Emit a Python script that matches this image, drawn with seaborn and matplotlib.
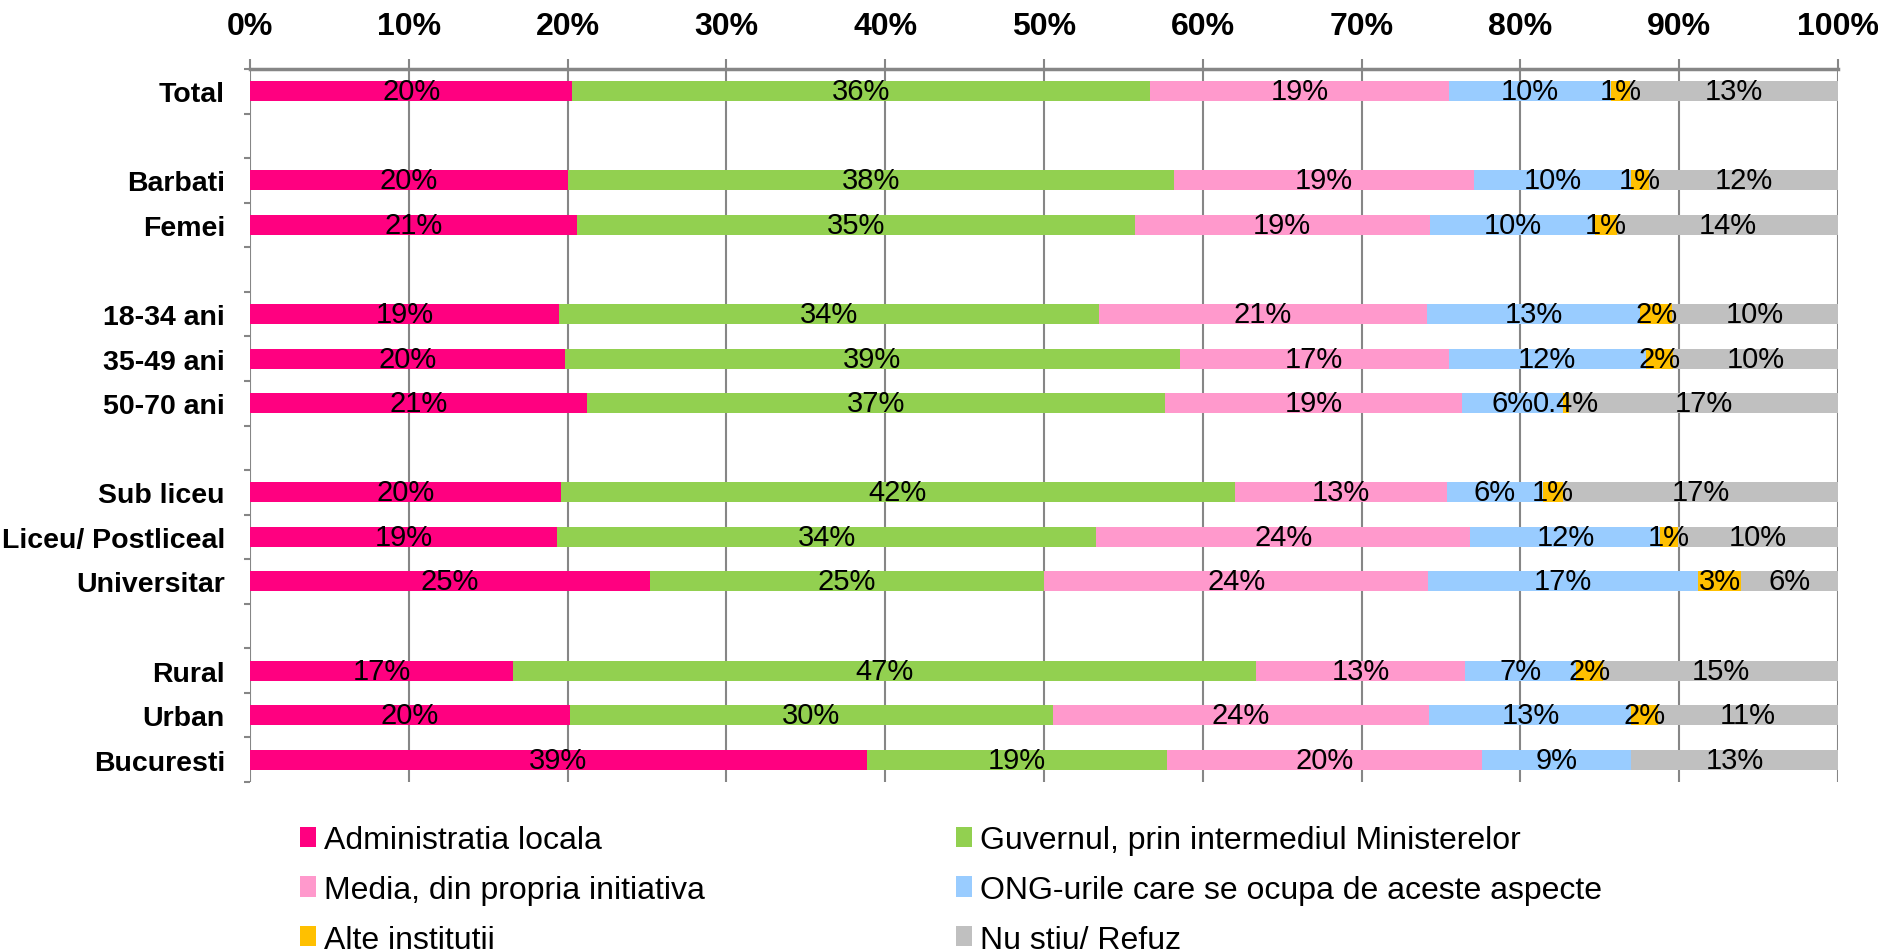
import numpy as np
import pandas as pd
import matplotlib
matplotlib.use("Agg")
import matplotlib.pyplot as plt
from matplotlib.patches import Patch
from matplotlib import font_manager
import seaborn as sns

# ---------- DATA ----------
categories = ["Total", "", "Barbati", "Femei", "", "18-34 ani", "35-49 ani", "50-70 ani", "",
              "Sub liceu", "Liceu/ Postliceal", "Universitar", "", "Rural", "Urban", "Bucuresti"]

series_names = ["Administratia locala", "Guvernul, prin intermediul Ministerelor",
                "Media, din propria initiativa", "ONG-urile care se ocupa de aceste aspecte",
                "Alte institutii", "Nu stiu/ Refuz"]

admin   = [20.3, None, 20.0, 20.6, None, 19.4, 19.8, 21.3, None, 19.6, 19.4, 25.2, None, 16.6, 20.1, 38.8]
guvern  = [36.4, None, 38.1, 35.1, None, 33.9, 38.7, 36.6, None, 42.4, 34.0, 24.8, None, 46.8, 30.4, 18.9]
media   = [18.8, None, 18.9, 18.6, None, 20.6, 16.9, 18.8, None, 13.4, 23.6, 24.2, None, 13.2, 23.7, 19.8]
ong     = [10.2, None, 9.9, 10.4, None, 13.4, 12.4, 6.4, None, 6.0, 12.0, 17.0, None, 7.0, 12.7, 9.4]
alte    = [1.2, None, 1.1, 1.4, None, 2.0, 1.7, 0.4, None, 1.3, 1.1, 2.7, None, 1.7, 1.7, 0.0]
nu_stiu = [13.1, None, 11.9, 13.9, None, 10.4, 10.4, 17.0, None, 17.3, 10.1, 6.1, None, 14.8, 11.3, 13.0]

colors = ["#FF0080", "#92D050", "#FF99CC", "#99CCFF", "#FFC000", "#C0C0C0"]

# ---------- PREP ----------
# blank separator rows need unique keys for the categorical axis
row_keys = [c if c else " " * (i + 1) for i, c in enumerate(categories)]

df = pd.DataFrame({"key": row_keys, series_names[0]: admin, series_names[1]: guvern,
                   series_names[2]: media, series_names[3]: ong,
                   series_names[4]: alte, series_names[5]: nu_stiu})
df = df.dropna().reset_index(drop=True)

# 100% stacked like Excel
norm = df[series_names].div(df[series_names].sum(axis=1), axis=0) * 100
cum = norm.cumsum(axis=1)
plot_df = pd.concat([df[["key"]], cum.add_prefix("cum_")], axis=1)

# ---------- FONTS ----------
sns.set_style("white")
plt.rcParams["font.family"] = ["Liberation Sans", "DejaVu Sans"]
plt.rcParams["text.color"] = "black"

installed = {f.name for f in font_manager.fontManager.ttflist}
if "Liberation Sans Narrow" in installed:
    narrow = ["Liberation Sans Narrow", "Liberation Sans"]
    label_size, cat_size = 24, 23.5
else:
    narrow = ["Liberation Sans", "DejaVu Sans"]
    label_size, cat_size = 21, 20.5

# ---------- PLOT ----------
fig = plt.figure(figsize=(18.78, 9.53), dpi=100)
ax = fig.add_axes([250 / 1878, 1 - 783 / 953, (1838 - 250) / 1878, (783 - 70) / 953])

# draw cumulative bars from the widest down so they stack
for j in reversed(range(len(series_names))):
    sns.barplot(data=plot_df, x="cum_" + series_names[j], y="key", order=row_keys,
                orient="h", color=colors[j], saturation=1, width=0.45,
                errorbar=None, linewidth=0, ax=ax)

# data labels
for i, row in df.iterrows():
    ypos = row_keys.index(row["key"])
    for j, name in enumerate(series_names):
        v = row[name]
        if v <= 0:
            continue
        xc = cum.loc[i, name] - norm.loc[i, name] / 2
        txt = f"{v:.0f}%" if v >= 1 else f"{v:.1f}%"
        ax.text(xc, ypos, txt, ha="center", va="center", fontsize=label_size,
                color="black", family=narrow)

ax.set_xlim(0, 100)
ax.set_ylim(len(row_keys) - 0.5, -0.5)
ax.set_xlabel("")
ax.set_ylabel("")

# x axis on top
ax.xaxis.tick_top()
ax.set_xticks(np.arange(0, 101, 10))
ax.set_xticklabels([f"{t}%" for t in range(0, 101, 10)], fontsize=23, fontweight="bold")
ax.tick_params(axis="x", which="major", length=7.5, width=1.5, color="#868686",
               labelcolor="black", pad=13, top=True, bottom=False,
               labeltop=True, labelbottom=False)

# y axis labels + boundary ticks
ax.set_yticks(range(len(categories)))
ax.set_yticklabels(categories, fontsize=cat_size, fontweight="bold", family=narrow)
ax.tick_params(axis="y", which="major", length=0, pad=18, labelcolor="black")
ax.set_yticks(np.arange(-0.5, len(categories), 1), minor=True)
ax.tick_params(axis="y", which="minor", length=4.5, width=1.5, color="#868686", left=True)

for side in ["left", "right", "bottom"]:
    ax.spines[side].set_visible(False)
ax.spines["top"].set_color("#868686")
ax.spines["top"].set_linewidth(2.5)

ax.grid(axis="x", color="#868686", linewidth=1.5)
ax.grid(axis="y", visible=False)
ax.set_axisbelow(True)

# legend, two columns placed by hand
handles = [Patch(facecolor=c, edgecolor="none", label=n) for c, n in zip(colors, series_names)]
leg_kw = dict(loc="upper left", frameon=False, fontsize=23, handlelength=0.5,
              handleheight=0.6, handletextpad=0.25, labelspacing=0.62,
              borderaxespad=0, borderpad=0, labelcolor="black")
fig.legend(handles=[handles[0], handles[2], handles[4]],
           bbox_to_anchor=(300 / 1878, 1 - 826 / 953), **leg_kw)
fig.legend(handles=[handles[1], handles[3], handles[5]],
           bbox_to_anchor=(956 / 1878, 1 - 826 / 953), **leg_kw)

fig.savefig("out.png", dpi=100)
